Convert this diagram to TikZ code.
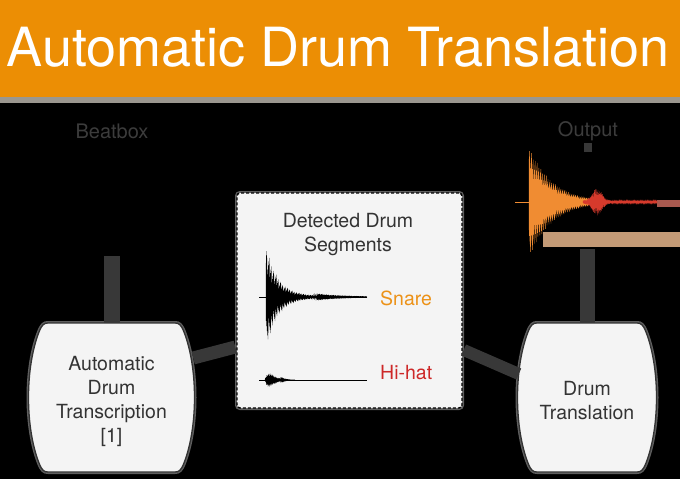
\documentclass[tikz,border=0pt]{standalone}
\usepackage{fontspec}
\setmainfont{TeX Gyre Heros}
\usetikzlibrary{calc,backgrounds}
\definecolor{banner}{RGB}{236,142,4}
\definecolor{stripgray}{RGB}{155,151,143}
\definecolor{boxfill}{RGB}{244,244,244}
\definecolor{txtdark}{RGB}{51,51,51}
\definecolor{lbldark}{RGB}{60,60,60}
\definecolor{conngray}{RGB}{56,56,56}
\definecolor{halogray}{RGB}{95,95,95}
\definecolor{snarecol}{RGB}{236,146,24}
\definecolor{hihatcol}{RGB}{205,40,40}
\definecolor{outorange}{RGB}{240,140,50}
\definecolor{outred}{RGB}{214,58,44}
\definecolor{mutedred}{RGB}{168,89,79}
\definecolor{tanbar}{RGB}{195,154,118}
\tikzset{
  boxtxt/.style={text=txtdark, align=center, font=\fontsize{19.5}{24}\selectfont},
  barrelbox/.style={preaction={draw=halogray, line width=4pt}, fill=boxfill, draw=txtdark, line width=1.3pt},
  barrelnode/.style={boxtxt, inner sep=0pt, minimum height=149pt},
  segbox/.style={preaction={draw=halogray, line width=4pt, solid}, fill=boxfill, draw=black,
    line width=1.4pt, dash pattern=on 3pt off 2pt, rounded corners=3pt,
    minimum width=225pt, minimum height=215pt, inner sep=0pt},
  conn/.style={draw=conngray, line width=15pt},
  toplbl/.style={text=lbldark, font=\fontsize{20}{24}\selectfont, inner sep=0pt}
}
% #1 node, #2 half width at middle, #3 half height, #4 vertical shift of shape
\newcommand\barrelpath[4]{%
  \path[barrelbox, shift={(#1.center)}, yshift=#4]
   ({-#2+20},{-#3}) -- ({#2-20},{-#3})
   .. controls ({#2-16},{-#3}) and ({#2-13.8},{-#3+1.8}) .. ({#2-11},{-#3+9})
   .. controls ({#2+3},{-#3+45}) and ({#2+3},{#3-45}) .. ({#2-11},{#3-9})
   .. controls ({#2-13.8},{#3-1.8}) and ({#2-16},{#3}) .. ({#2-20},{#3})
   -- ({-#2+20},{#3})
   .. controls ({-#2+16},{#3}) and ({-#2+13.8},{#3-1.8}) .. ({-#2+11},{#3-9})
   .. controls ({-#2-3},{#3-45}) and ({-#2-3},{-#3+45}) .. ({-#2+11},{-#3+9})
   .. controls ({-#2+13.8},{-#3+1.8}) and ({-#2+16},{-#3}) .. ({-#2+20},{-#3}) -- cycle;}
\begin{document}
\begin{tikzpicture}[x=1pt,y=-1pt]
\useasboundingbox (0,0) rectangle (680,479);
\begin{scope}[on background layer]
  \fill[black] (0,0) rectangle (680,479);
  \fill[banner] (0,0) rectangle (680,97);
  \fill[stripgray] (0,97) rectangle (680,103);
\end{scope}

% title and top labels
\node[anchor=base, text=white, font=\fontsize{54}{60}\selectfont, inner sep=0pt] (title) at (338,66) {Automatic Drum Translation};
\node[toplbl] (beatbox) at (112,131) {Beatbox};
\node[toplbl] (outlbl) at (588,131) {Output};

% boxes (text centred 3.5 below the shape centre)
\node[barrelnode, minimum width=167pt] (adt) at (111.5,401) {Automatic\\Drum\\Transcription\\{[1]}};
\node[barrelnode, minimum width=140pt] (dt) at (587,401) {Drum\\Translation};
\begin{scope}[on background layer]
  \barrelpath{adt}{83.5}{74.5}{3.5pt}
  \barrelpath{dt}{70}{74.5}{3.5pt}
\end{scope}

% connectors
\coordinate (inend) at (adt.north |- 0,256);
\coordinate (outend) at (dt.north |- 0,249);
\coordinate (stubtop) at (588,143);
\coordinate (stubbot) at (588,152);
\draw[conn, line width=16pt] ($(adt.north)+(0,-3.5)$) -- (inend);
\draw[conn] ($(dt.north)+(0,-3.5)$) -- (outend);
\draw[conn, line width=8pt] (stubtop) -- (stubbot);

\node[segbox] (seg) at (349.5,300.5) {};
\draw[conn, line width=13pt] ($(adt.east)+(-2,-43)$) -- ($(seg.west)+(-1,46.5)$);
\draw[conn, line width=12pt] ($(seg.east)+(1,49.5)$) -- ($(dt.west)+(2,-27)$);

% segment contents
\node[boxtxt] (segtitle) at (348,234.5) {Detected Drum\\Segments};
\node[anchor=west, inner sep=0pt, text=snarecol, font=\fontsize{19.5}{24}\selectfont] (snare) at (380,298) {Snare};
\node[anchor=west, inner sep=0pt, text=hihatcol, font=\fontsize{19.5}{24}\selectfont] (hihat) at (380,373) {Hi-hat};

% snare waveform
\draw[black, line width=0.6pt] (259,297) -- (367,297);
\draw[black, line width=0.45pt] plot[domain=0:404, samples=405, variable=\t]
  ({266+\t*0.25},{297+(1-2*mod(\t,2))*(49*exp(-\t/44)+4*exp(-\t/160))*(0.45+0.55*mod(\t*37,23)/22)});
% hi-hat waveform
\draw[black, line width=0.9pt] (259,380) -- (367,380);
\draw[black, line width=0.4pt] plot[domain=0:120, samples=121, variable=\t]
  ({265+\t*0.25},{380+(1-2*mod(\t,2))*7*(\t/16)*exp(1-\t/16)*(0.6+0.4*mod(\t*31,17)/16)});

% output waveform
\fill[tanbar] (543,232) rectangle (680,247);
\fill[mutedred] (657,200) rectangle (680,207);
\draw[outorange, line width=0.8pt] (515,202) -- (529,202);
\draw[outred, line width=1pt] (583,202) -- (657,202);
\draw[outorange, line width=0.4pt] plot[domain=0:300, samples=301, variable=\t]
  ({529+\t*0.2},{202+(1-2*mod(\t,2))*56*exp(-\t/115)*(0.5+0.5*mod(\t*37,23)/22)});
\draw[outred, line width=0.35pt] plot[domain=0:370, samples=371, variable=\t]
  ({583+\t*0.2},{202+(1-2*mod(\t,2))*(1.5+12*exp(-((\t*0.2-14)/7)^2))*(0.45+0.55*mod(\t*31,17)/16)});
\end{tikzpicture}
\end{document}
